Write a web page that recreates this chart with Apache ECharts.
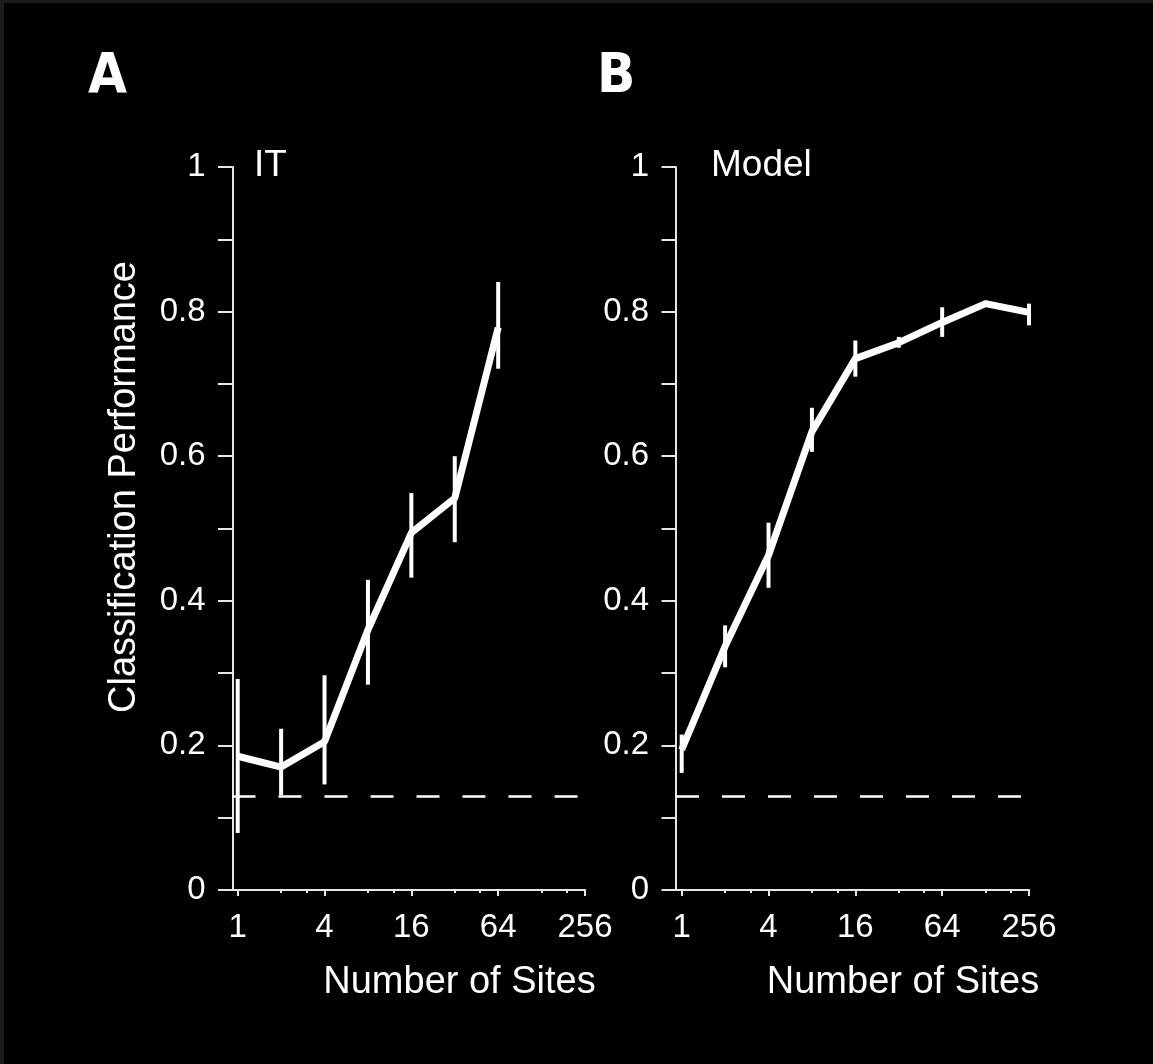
<!DOCTYPE html>
<html>
<head>
<meta charset="utf-8">
<title>Classification Performance vs Number of Sites</title>
<script src="https://cdn.jsdelivr.net/npm/echarts@6/dist/echarts.min.js"></script>
<style>
  html, body { margin: 0; padding: 0; background: #000; }
  #chart { width: 1153px; height: 1064px; }
  #frame { position: absolute; left: 0; top: 0; width: 1149px; height: 1061px;
           border-left: 4px solid #1b1b1b; border-top: 3px solid #1b1b1b; pointer-events: none; }
</style>
</head>
<body>
<div id="chart"></div>
<div id="frame"></div>
<script>
// x 轴刻度（站点数，对数坐标以 2 为底）
var labelSites = [1, 4, 16, 64, 256];
var minorSites = [2, 3, 8, 12, 32, 48, 128, 192];

// A: IT
var sitesIT = [1, 2, 4, 8, 16, 32, 64];
var perfIT  = [0.185, 0.170, 0.205, 0.360, 0.494, 0.542, 0.778];
var lowIT   = [0.079, 0.131, 0.146, 0.284, 0.432, 0.481, 0.721];
var highIT  = [0.292, 0.223, 0.297, 0.429, 0.549, 0.600, 0.841];

// B: Model
var sitesModel = [1, 2, 4, 8, 16, 32, 64, 128, 256];
var perfModel  = [0.194, 0.337, 0.463, 0.634, 0.735, 0.757, 0.785, 0.811, 0.799];
var lowModel   = [0.162, 0.308, 0.418, 0.606, 0.710, 0.750, 0.765, 0.807, 0.781];
var highModel  = [0.215, 0.366, 0.508, 0.667, 0.760, 0.765, 0.806, 0.815, 0.811];

// 随机水平 1/8
var chanceLevel = 0.125;

var FONT = "'Liberation Sans', Arial, sans-serif";
var LINE = '#e6e6e6';

var chart = echarts.init(document.getElementById('chart'));

function linePoints(sites, vals) {
  return sites.map(function (s, i) { return [Math.log2(s), vals[i]]; });
}
function errPoints(sites, lo, hi) {
  return sites.map(function (s, i) { return [Math.log2(s), lo[i], hi[i]]; });
}
function renderErr(params, api) {
  var x = api.value(0);
  var a = api.coord([x, api.value(1)]);
  var b = api.coord([x, api.value(2)]);
  return {
    type: 'line',
    shape: { x1: a[0], y1: a[1], x2: b[0], y2: b[1] },
    style: { stroke: '#fff', lineWidth: 4 }
  };
}

function majorX(g, xMin) {
  return {
    type: 'value', gridIndex: g, position: 'bottom', min: xMin, max: 8,
    axisLine: { show: true, onZero: false, lineStyle: { color: LINE, width: 2 } },
    axisTick: { show: true, customValues: labelSites.map(Math.log2), length: 6,
                lineStyle: { color: LINE, width: 2 } },
    axisLabel: {
      customValues: labelSites.map(Math.log2),
      formatter: function (v) { return String(Math.round(Math.pow(2, v))); },
      color: '#fff', fontSize: 33, fontFamily: FONT, margin: 21
    },
    splitLine: { show: false }
  };
}
function minorX(g, xMin) {
  return {
    type: 'value', gridIndex: g, position: 'bottom', min: xMin, max: 8,
    axisLine: { show: false, onZero: false },
    axisTick: { show: true, customValues: minorSites.map(Math.log2), length: 3,
                lineStyle: { color: LINE, width: 2 } },
    axisLabel: { show: false },
    splitLine: { show: false }
  };
}
function yAx(g) {
  return {
    type: 'value', gridIndex: g, min: 0, max: 1, interval: 0.1,
    axisLine: { show: true, onZero: false, lineStyle: { color: LINE, width: 2 } },
    axisTick: { show: true, length: 14.5, lineStyle: { color: LINE, width: 2 } },
    axisLabel: {
      formatter: function (v) {
        var k = Math.round(v * 10);
        return k % 2 === 0 ? String(k / 10) : '';
      },
      color: '#fff', fontSize: 33, fontFamily: FONT, margin: 27
    },
    splitLine: { show: false }
  };
}

function panelSeries(xi, g, sites, vals, lo, hi) {
  return [
    {
      type: 'line', xAxisIndex: xi, yAxisIndex: g,
      data: linePoints(sites, vals),
      symbol: 'none', lineStyle: { color: '#fff', width: 7 },
      markLine: {
        silent: true, symbol: 'none', label: { show: false },
        lineStyle: { color: '#fff', type: [23, 23], width: 2.5 },
        data: [{ yAxis: chanceLevel }]
      }
    },
    {
      type: 'custom', xAxisIndex: xi, yAxisIndex: g,
      data: errPoints(sites, lo, hi),
      encode: { x: 0, y: [1, 2] },
      renderItem: renderErr
    }
  ];
}

function txt(x, y, s, size, opts) {
  return {
    type: 'text', x: x, y: y, rotation: (opts && opts.rotation) || 0,
    style: {
      text: s, fill: '#fff', fontSize: size,
      fontFamily: (opts && opts.font) || FONT,
      fontWeight: (opts && opts.weight) || 'normal',
      align: (opts && opts.align) || 'left', verticalAlign: 'middle'
    }
  };
}

var option = {
  backgroundColor: '#000',
  animation: false,
  grid: [
    { left: 232.5, top: 167, width: 352.5, height: 723 },
    { left: 676, top: 167, width: 353, height: 723 }
  ],
  xAxis: [majorX(0, -0.12), minorX(0, -0.12), majorX(1, -0.131), minorX(1, -0.131)],
  yAxis: [yAx(0), yAx(1)],
  series: panelSeries(0, 0, sitesIT, perfIT, lowIT, highIT)
    .concat(panelSeries(2, 1, sitesModel, perfModel, lowModel, highModel)),
  graphic: [
    txt(88, 77, 'A', 56, { weight: 'bold', font: "'DejaVu Sans Condensed', 'Liberation Sans Narrow', sans-serif" }),
    txt(597, 77, 'B', 56, { weight: 'bold', font: "'DejaVu Sans Condensed', 'Liberation Sans Narrow', sans-serif" }),
    txt(254, 166, 'IT', 37),
    txt(711, 166, 'Model', 37),
    txt(125, 487, 'Classification Performance', 38, { rotation: Math.PI / 2, align: 'center' }),
    txt(459.5, 983, 'Number of Sites', 38, { align: 'center' }),
    txt(903, 983, 'Number of Sites', 38, { align: 'center' })
  ]
};

chart.setOption(option);
</script>
</body>
</html>
